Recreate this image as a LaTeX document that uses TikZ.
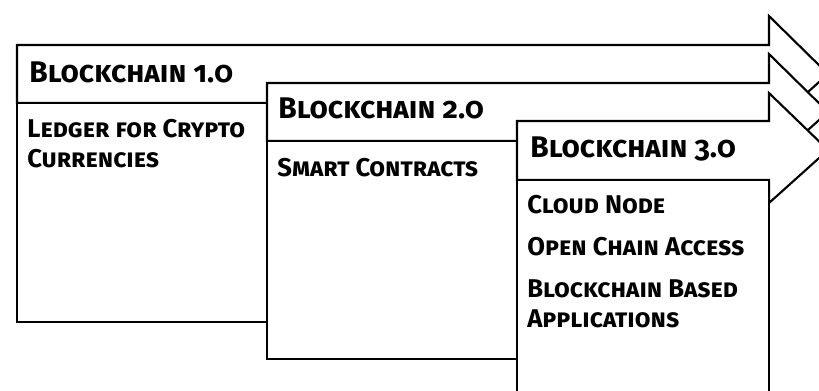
\documentclass[tikz,border=0pt]{standalone}
\usepackage{fontspec}
\setmainfont{Fira Sans}[Numbers=OldStyle]
\usetikzlibrary{positioning}

\tikzset{
	stage/.style={draw, line width=1.2pt, fill=white, line join=miter},
	headtext/.style={anchor=base west, inner sep=0pt, font=\fontsize{17}{20}\selectfont\bfseries\scshape},
	bodytext/.style={anchor=base west, inner sep=0pt, align=left, font=\fontsize{14.6}{16.6}\selectfont\bfseries\scshape}
}

\begin{document}
\begin{tikzpicture}[x=0.02cm, y=-0.02cm]
			
			\useasboundingbox (0,0) rectangle (819,390);
			\clip (0,0) rectangle (819,390);
			
			%Blockchain 1.0
			\draw[stage] (17,45) -- (769,45) -- (769,16) -- (828,74) -- (769,127) -- (769,103) 
			-- (17,103) -- cycle;
			\draw[stage] (17,103) rectangle (267,322);
			\node (bcOne) at (29,82) [headtext]{Blockchain 1.0};
			\node (ledger) at (27,167) [bodytext]{Ledger for Crypto\\ Currencies};
			
			%Blockchain 2.0
			\draw[stage] (267,83) -- (769,83) -- (769,54) -- (828,112) -- (769,165) -- (769,141) 
			-- (267,141) -- cycle;
			\draw[stage] (267,141) rectangle (517,359);
			\node (bcTwo) at (278,118) [headtext]{Blockchain 2.0};
			\node (contracts) at (277,176) [bodytext]{Smart Contracts};
			
			%Blockchain 3.0
			\draw[stage] (517,121) -- (769,121) -- (769,93) -- (828,150) -- (769,203) -- (769,180) 
			-- (517,180) -- cycle;
			\draw[stage] (517,180) rectangle (769,400);
			\node (bcThree) at (530,157) [headtext]{Blockchain 3.0};
			\node (cloudNode) at (527,213) [bodytext]{Cloud Node};
			\node (openChain) at (527,255) [bodytext]{Open Chain Access};
			\node (bcApps) at (527,327) [bodytext]{Blockchain Based\\ Applications};
			
\end{tikzpicture}
\end{document}
